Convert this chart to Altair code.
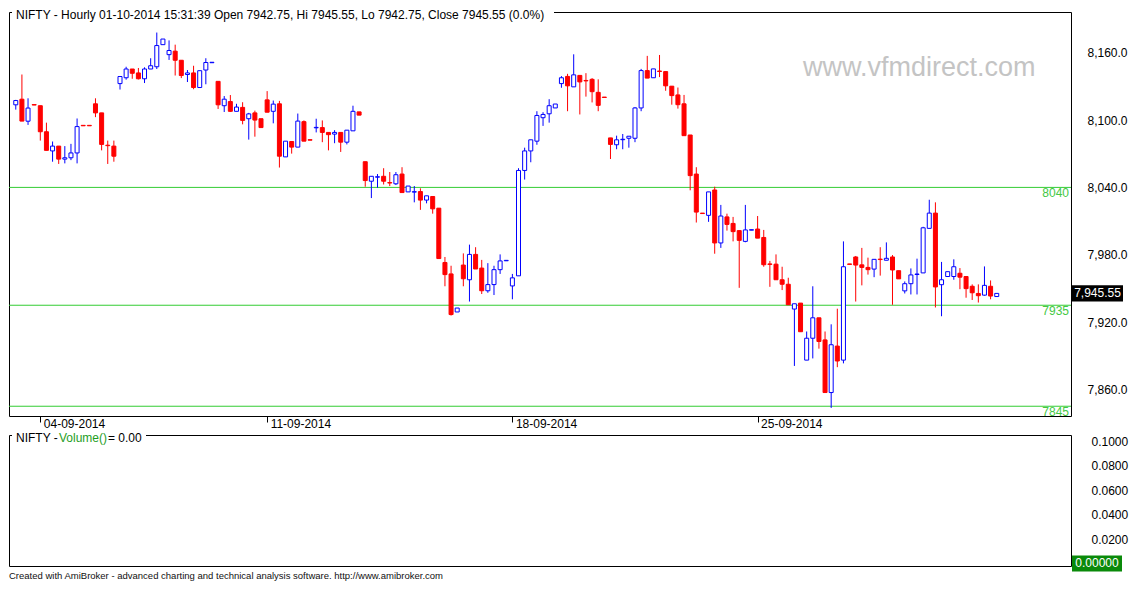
import altair as alt
import pandas as pd

FONT = "Liberation Sans"

# Hourly OHLC candles (NIFTY)
opens = [8113.6, 8118.6, 8099.0, 8113.8, 8112.8, 8089.6, 8072.5, 8076.8, 8065.2, 8066.4,
         8070.7, 8095.3, 8095.3, 8114.5, 8106.4, 8077.6, 8076.8, 8132.5, 8137.7, 8145.5,
         8142.0, 8136.8, 8145.5, 8147.5, 8167.2, 8158.3, 8161.4, 8153.3, 8140.6, 8142.0,
         8129.0, 8144.6, 8151.1, 8134.5, 8112.8, 8116.5, 8107.8, 8111.3, 8101.2, 8106.4,
         8101.2, 8118.0, 8107.8, 8114.5, 8067.2, 8080.9, 8075.9, 8098.6, 8082.5, 8093.1,
         8093.3, 8089.0, 8087.5, 8089.0, 8080.3, 8090.4, 8107.3, 8062.9, 8045.5, 8049.1,
         8049.9, 8044.3, 8043.2, 8051.9, 8036.0, 8035.8, 8036.3, 8028.7, 8031.9, 8021.5,
         7973.1, 7962.9, 7929.0, 7970.8, 7957.7, 7980.3, 7968.1, 7947.9, 7953.4, 7966.7,
         7974.6, 7952.2, 7961.2, 8055.1, 8072.5, 8081.2, 8102.1, 8105.6, 8110.8, 8132.5,
         8138.9, 8129.6, 8139.8, 8135.3, 8136.3, 8124.7, 8120.5, 8084.1, 8078.0, 8082.5,
         8083.8, 8083.8, 8110.8, 8144.1, 8137.7, 8143.7, 8143.2, 8130.2, 8122.4, 8114.5,
         8086.7, 8051.9, 8017.1, 8015.1, 8037.7, 7990.5, 8013.7, 8007.9, 8001.5, 7991.9,
         8001.9, 8002.9, 7995.4, 7971.8, 7971.6, 7957.7, 7953.7, 7931.6, 7936.9, 7886.1,
         7905.6, 7923.8, 7904.1, 7857.2, 7898.6, 7886.1, 7971.8, 7978.0, 7971.0, 7968.7,
         7967.2, 7976.1, 7975.1, 7978.0, 7965.8, 7947.8, 7954.2, 7962.4, 7963.8, 8003.5,
         8017.1, 7953.3, 7960.6, 7960.6, 7963.5, 7960.6, 7951.9, 7945.5, 7944.0, 7951.9,
         7942.75]
highs = [8118.0, 8140.6, 8119.4, 8113.8, 8112.8, 8097.7, 8080.9, 8076.8, 8076.8, 8078.8,
         8101.4, 8095.3, 8095.3, 8119.4, 8106.4, 8081.7, 8081.7, 8138.8, 8147.5, 8145.5,
         8146.4, 8147.0, 8155.1, 8178.0, 8172.2, 8171.0, 8167.2, 8153.3, 8144.6, 8148.4,
         8144.0, 8155.1, 8151.5, 8134.5, 8121.4, 8122.3, 8114.5, 8115.9, 8106.4, 8108.4,
         8101.2, 8125.8, 8117.4, 8117.1, 8081.2, 8080.9, 8105.8, 8099.7, 8082.5, 8101.2,
         8099.7, 8089.0, 8091.0, 8089.0, 8091.0, 8112.8, 8107.3, 8062.9, 8049.9, 8051.9,
         8057.1, 8053.7, 8053.7, 8058.0, 8041.2, 8041.2, 8039.2, 8032.5, 8031.9, 8021.5,
         7978.0, 7970.2, 7932.5, 7981.2, 7989.0, 7986.7, 7975.4, 7972.5, 7970.2, 7980.3,
         7975.0, 7962.9, 8057.1, 8075.4, 8082.4, 8107.9, 8107.0, 8118.6, 8114.3, 8139.2,
         8141.2, 8158.6, 8139.8, 8141.8, 8137.4, 8136.3, 8120.5, 8084.1, 8086.1, 8087.6,
         8085.6, 8111.6, 8145.6, 8157.2, 8145.6, 8158.0, 8143.2, 8130.2, 8129.0, 8122.4,
         8086.7, 8058.0, 8017.1, 8036.0, 8040.6, 8024.4, 8016.6, 8013.7, 8001.5, 8024.4,
         8002.3, 8014.5, 8002.1, 7974.5, 7980.3, 7969.3, 7959.5, 7936.3, 7936.9, 7911.6,
         7951.9, 7923.8, 7911.6, 7918.0, 7931.9, 7991.9, 7971.8, 7978.9, 7986.1, 7977.4,
         7975.9, 7986.7, 7991.0, 7979.7, 7965.8, 7956.2, 7967.8, 7976.5, 8004.9, 8029.0,
         8026.7, 7973.6, 7964.9, 7975.9, 7968.1, 7960.6, 7953.6, 7953.6, 7969.6, 7957.1,
         7945.55]
lows = [8109.3, 8099.0, 8095.7, 8113.4, 8081.7, 8073.0, 8062.9, 8060.9, 8061.4, 8064.3,
        8061.4, 8094.9, 8094.9, 8102.6, 8073.0, 8060.9, 8062.9, 8127.2, 8136.0, 8136.8,
        8136.2, 8133.0, 8145.5, 8145.5, 8167.2, 8153.6, 8139.7, 8137.4, 8133.9, 8127.5,
        8129.0, 8131.9, 8151.1, 8109.9, 8107.2, 8107.2, 8107.8, 8096.2, 8082.6, 8085.2,
        8093.3, 8107.0, 8097.1, 8057.7, 8067.2, 8070.1, 8075.9, 8081.2, 8082.1, 8089.0,
        8080.3, 8073.0, 8079.4, 8071.6, 8078.3, 8090.4, 8104.4, 8040.6, 8030.5, 8039.7,
        8042.6, 8041.2, 8042.1, 8035.4, 8036.0, 8026.7, 8020.0, 8025.8, 8016.6, 7976.6,
        7951.9, 7925.8, 7929.0, 7951.9, 7938.3, 7967.3, 7945.0, 7946.1, 7944.1, 7962.9,
        7974.6, 7940.3, 7961.2, 8047.0, 8062.4, 8078.0, 8094.8, 8097.7, 8110.8, 8128.8,
        8107.9, 8129.6, 8105.0, 8120.9, 8115.7, 8107.9, 8120.1, 8065.3, 8074.0, 8074.0,
        8075.4, 8080.3, 8107.9, 8137.4, 8137.7, 8138.3, 8126.1, 8113.7, 8110.2, 8086.1,
        8037.4, 8008.7, 8016.7, 8009.3, 7980.9, 7986.1, 8001.5, 7991.9, 7950.5, 7991.1,
        8001.9, 7994.8, 7969.3, 7951.4, 7957.7, 7948.5, 7935.4, 7880.9, 7911.4, 7886.1,
        7887.6, 7896.3, 7857.2, 7843.5, 7879.8, 7883.2, 7971.4, 7938.3, 7952.7, 7962.3,
        7960.0, 7961.4, 7975.1, 7935.4, 7958.5, 7945.5, 7944.6, 7944.6, 7963.8, 8003.5,
        7933.0, 7925.2, 7960.6, 7957.7, 7949.3, 7941.7, 7939.7, 7937.4, 7943.5, 7940.3,
        7942.75]
closes = [8117.4, 8099.1, 8110.7, 8113.4, 8089.6, 8073.0, 8076.8, 8065.2, 8066.4, 8070.7,
          8094.2, 8094.9, 8094.9, 8106.4, 8078.3, 8077.2, 8067.8, 8138.8, 8145.5, 8141.7,
          8136.8, 8145.5, 8148.4, 8166.4, 8172.2, 8162.0, 8153.3, 8139.7, 8142.0, 8129.0,
          8144.0, 8151.3, 8151.5, 8113.6, 8118.6, 8107.8, 8111.6, 8099.7, 8105.5, 8100.0,
          8093.3, 8107.0, 8114.2, 8067.8, 8081.2, 8075.9, 8099.1, 8081.2, 8082.1, 8093.5,
          8089.0, 8087.0, 8089.0, 8080.3, 8091.0, 8107.8, 8104.4, 8046.1, 8049.9, 8049.5,
          8045.5, 8043.9, 8051.3, 8035.4, 8041.2, 8036.2, 8028.7, 8032.5, 8020.9, 7976.6,
          7962.3, 7926.7, 7932.5, 7958.6, 7980.3, 7967.3, 7947.9, 7953.4, 7966.7, 7974.5,
          7975.0, 7959.4, 8055.1, 8072.5, 8082.4, 8104.1, 8105.0, 8112.8, 8114.3, 8137.7,
          8130.5, 8140.3, 8134.0, 8134.9, 8125.3, 8113.1, 8120.1, 8078.3, 8082.4, 8082.9,
          8085.6, 8110.8, 8144.1, 8137.4, 8145.6, 8143.3, 8130.5, 8121.8, 8113.7, 8086.1,
          8050.5, 8018.0, 8016.7, 8036.0, 7990.5, 8014.5, 8007.0, 8000.6, 7992.8, 8002.1,
          8002.3, 7994.8, 7971.1, 7971.4, 7957.7, 7953.7, 7935.4, 7936.3, 7911.4, 7905.6,
          7923.8, 7902.7, 7857.2, 7899.8, 7885.3, 7969.3, 7971.4, 7970.8, 7968.7, 7966.7,
          7975.9, 7975.7, 7976.8, 7966.4, 7958.5, 7954.2, 7962.0, 7962.8, 8004.0, 8017.1,
          7951.3, 7957.7, 7964.9, 7969.3, 7960.0, 7949.8, 7946.1, 7943.5, 7952.7, 7943.2,
          7945.55]

day_ticks = [4, 41, 81, 121]
day_labels = ["04-09-2014", "11-09-2014", "18-09-2014", "25-09-2014"]
price_ticks = [7860, 7920, 7980, 8040, 8100, 8160]
levels = [8040, 7935, 7845]
level_labels = ["8040", "7935", "7845"]
vol_ticks = [0.02, 0.04, 0.06, 0.08, 0.10]
last_close = 7945.55
last_close_label = "7,945.55"
volume_value = 0.0
volume_label = "0.00000"
title_text = "NIFTY - Hourly 01-10-2014 15:31:39 Open 7942.75, Hi 7945.55, Lo 7942.75, Close 7945.55 (0.0%)"
vol_title = ["NIFTY - ", "Volume()", " = 0.00"]
watermark = "www.vfmdirect.com"
footer = "Created with AmiBroker - advanced charting and technical analysis software. http://www.amibroker.com"

W = 1062
H1 = 404
H2 = 131
BLUE = "#0000ff"
RED = "#ff0000"
GREEN = "#33cc33"

df = pd.DataFrame({"i": list(range(len(opens))), "open": opens, "high": highs,
                   "low": lows, "close": closes})

xscale = alt.Scale(domain=[-0.29, 171.3], nice=False, zero=False)
yscale = alt.Scale(domain=[7836.3, 8196.3], nice=False, zero=False)
vscale = alt.Scale(domain=[-0.0021, 0.1053], nice=False, zero=False)

expr = ""
for t, l in zip(day_ticks, day_labels):
    expr += f"datum.value == {t} ? '{l}' : "
expr += "''"

xaxis = alt.Axis(values=day_ticks, labelExpr=expr, title=None, grid=False, domain=False,
                 ticks=True, tickSize=6, tickColor="black", tickWidth=1,
                 labelAlign="left", labelOffset=3, labelBaseline="middle", labelPadding=1,
                 labelFontSize=12, labelColor="black", labelFont=FONT,
                 labelFlush=False, labelOverlap=False)
yaxis = alt.Axis(orient="right", values=price_ticks, format=",.1f", title=None, grid=False,
                 domain=False, ticks=False, labelPadding=16, labelFontSize=12,
                 labelColor="black", labelFont=FONT, labelOverlap=False)

base = alt.Chart(df).transform_calculate(
    col=f"datum.close >= datum.open ? '{BLUE}' : '{RED}'",
    fillc=f"datum.close >= datum.open ? 'white' : '{RED}'",
)

wick = base.mark_rule(strokeWidth=1, clip=True).encode(
    x=alt.X("i:Q", scale=xscale, axis=xaxis),
    y=alt.Y("low:Q", scale=yscale, axis=yaxis),
    y2="high:Q",
    color=alt.Color("col:N", scale=None),
)
body = base.mark_bar(size=4, strokeWidth=1, clip=True).encode(
    x=alt.X("i:Q", scale=xscale, axis=xaxis),
    y=alt.Y("open:Q", scale=yscale, axis=yaxis),
    y2="close:Q",
    fill=alt.Fill("fillc:N", scale=None),
    stroke=alt.Stroke("col:N", scale=None),
)

lv = pd.DataFrame({"level": levels, "label": level_labels})
rules = alt.Chart(lv).mark_rule(color=GREEN, strokeWidth=1).encode(
    y=alt.Y("level:Q", scale=yscale, axis=yaxis))
lvtext = alt.Chart(lv).mark_text(align="right", baseline="top", dy=1, color="#44c844",
                                 fontSize=12, font=FONT, clip=True).encode(
    y=alt.Y("level:Q", scale=yscale, axis=yaxis), x=alt.value(W - 2), text="label:N")

one = pd.DataFrame({"t": [title_text], "w": [watermark], "p": [last_close],
                    "pl": [last_close_label]})
title_bg = alt.Chart(one).mark_rect(color="white").encode(
    x=alt.value(3), x2=alt.value(545), y=alt.value(-2), y2=alt.value(4))
title_txt = alt.Chart(one).mark_text(align="left", baseline="middle", fontSize=12,
                                     font=FONT, color="black").encode(
    x=alt.value(7), y=alt.value(3), text="t:N")
wm = alt.Chart(one).mark_text(align="left", baseline="alphabetic", fontSize=27,
                              font=FONT, color="#c4c4c4").encode(
    x=alt.value(794), y=alt.value(64), text="w:N")
tag_rect = alt.Chart(one).transform_calculate(
    p1="datum.p - 7.2", p2="datum.p + 7.2").mark_rect(color="black").encode(
    x=alt.value(W + 1), x2=alt.value(W + 52),
    y=alt.Y("p1:Q", scale=yscale, axis=yaxis), y2="p2:Q")
tag_txt = alt.Chart(one).mark_text(align="center", baseline="middle", fontSize=12,
                                   font=FONT, color="white").encode(
    x=alt.value(W + 26.5), y=alt.Y("p:Q", scale=yscale, axis=yaxis), text="pl:N")

main = alt.layer(rules, wick, body, lvtext, wm, title_bg, title_txt, tag_rect, tag_txt).properties(
    width=W, height=H1)

# Volume panel
vd = pd.DataFrame({"v": [volume_value], "vl": [volume_label],
                   "a": [vol_title[0]], "b": [vol_title[1]], "c": [vol_title[2]],
                   "f": [footer]})
vaxis = alt.Axis(orient="right", values=vol_ticks, format=".4f", title=None, grid=False,
                 domain=False, ticks=False, labelPadding=20, labelFontSize=12,
                 labelColor="black", labelFont=FONT)
vbox = alt.Chart(vd).transform_calculate(
    v1="datum.v - 0.0066", v2="datum.v + 0.0066").mark_rect(color="#0a8a0a").encode(
    x=alt.value(W + 1), x2=alt.value(W + 51),
    y=alt.Y("v1:Q", scale=vscale, axis=vaxis), y2="v2:Q")
vbox_txt = alt.Chart(vd).mark_text(align="center", baseline="middle", fontSize=12,
                                   font=FONT, color="white").encode(
    x=alt.value(W + 26), y=alt.Y("v:Q", scale=vscale, axis=vaxis), text="vl:N")
vt_bg = alt.Chart(vd).mark_rect(color="white").encode(
    x=alt.value(3), x2=alt.value(137), y=alt.value(-2), y2=alt.value(4))
vt_a = alt.Chart(vd).mark_text(align="left", baseline="middle", fontSize=12, font=FONT,
                               color="black").encode(x=alt.value(7), y=alt.value(3), text="a:N")
vt_b = alt.Chart(vd).mark_text(align="left", baseline="middle", fontSize=12, font=FONT,
                               color="#1e9e1e").encode(x=alt.value(50), y=alt.value(3), text="b:N")
vt_c = alt.Chart(vd).mark_text(align="left", baseline="middle", fontSize=12, font=FONT,
                               color="black").encode(x=alt.value(99), y=alt.value(3), text="c:N")
foot = alt.Chart(vd).mark_text(align="left", baseline="middle", fontSize=9.5, font=FONT,
                               color="#111111").encode(
    x=alt.value(0), y=alt.value(H2 + 10), text="f:N")

vol = alt.layer(vbox, vbox_txt, vt_bg, vt_a, vt_b, vt_c, foot).properties(width=W, height=H2)

chart = alt.vconcat(main, vol, spacing=19, bounds="flush").properties(
    padding={"left": 0, "top": 0, "right": 0, "bottom": 0}
).configure(background="white").configure_view(stroke="black", strokeWidth=1)

chart.save("out.html", embed_options={"renderer": "svg", "actions": False})
